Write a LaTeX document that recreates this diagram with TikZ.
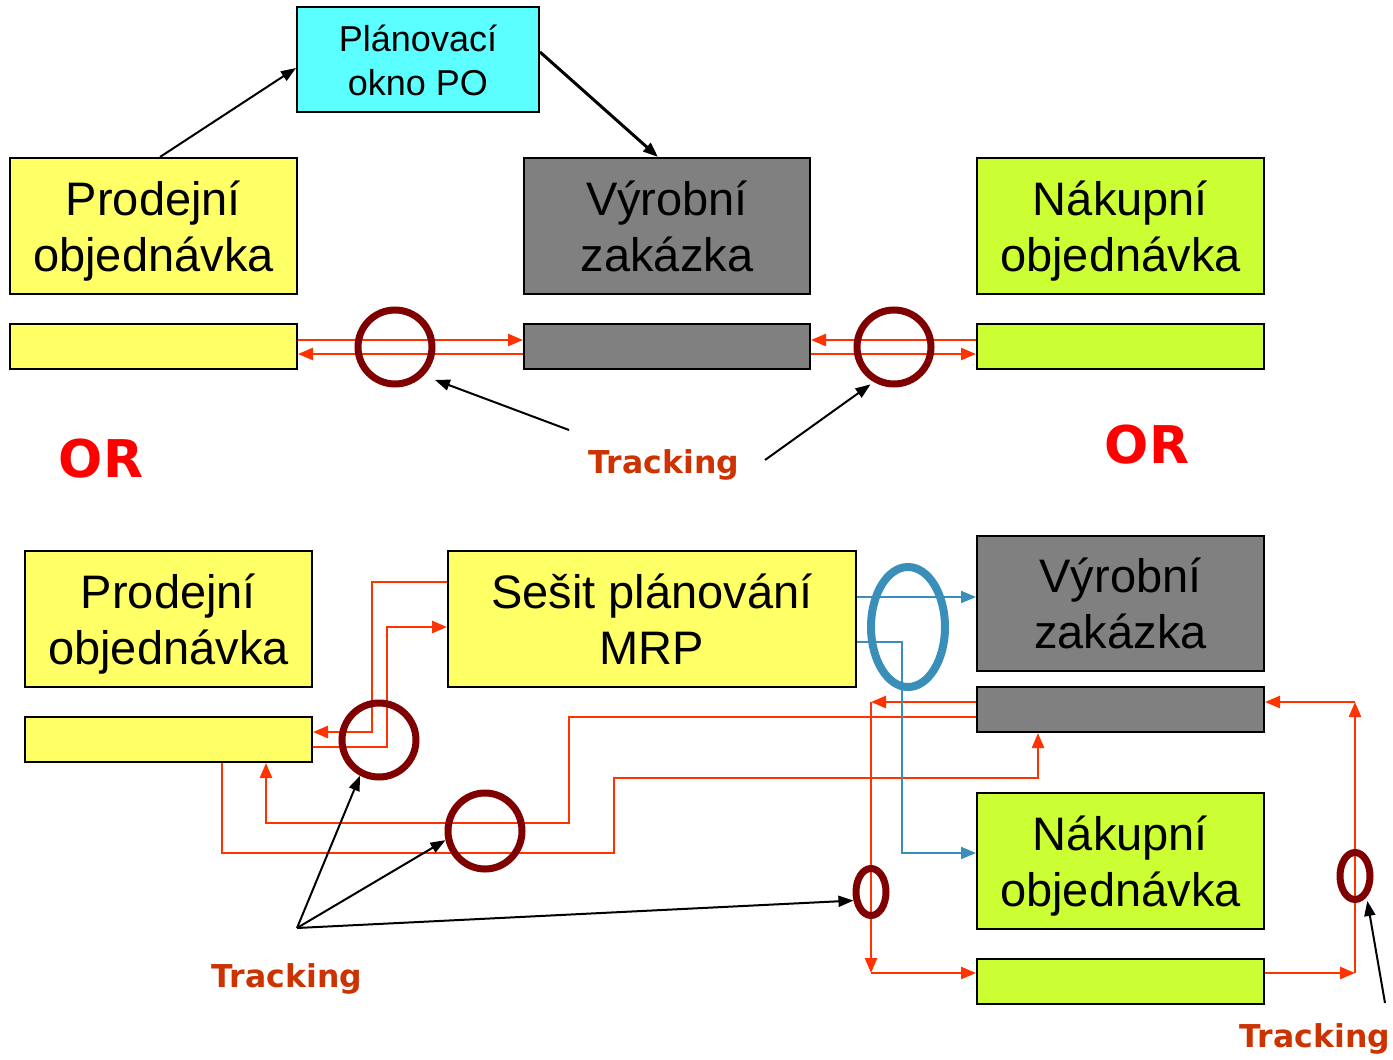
\documentclass[tikz,border=0pt]{standalone}
\usepackage{fontspec}
\setmainfont{Liberation Sans}
\newfontfamily\labelfont{DejaVu Sans}
\usetikzlibrary{arrows.meta,shapes.geometric}

\definecolor{boxyellow}{HTML}{FFFF66}
\definecolor{boxlime}{HTML}{CCFF33}
\definecolor{boxgray}{HTML}{808080}
\definecolor{boxcyan}{HTML}{5CFFFF}
\definecolor{linkred}{HTML}{FF3300}
\definecolor{ringred}{HTML}{800000}
\definecolor{linkblue}{HTML}{3A8FBA}
\definecolor{trackred}{HTML}{CC3300}
\definecolor{orred}{HTML}{FF0000}

% two centred lines with a fixed vertical extent, so every box sets them alike
\newcommand{\boxlines}[2]{\rule{0pt}{46pt}#1\\#2\rule[-12pt]{0pt}{12pt}}
\newcommand{\smalllines}[2]{\rule{0pt}{36pt}#1\\#2\rule[-9pt]{0pt}{9pt}}

\tikzset{
  docbox/.style={draw=black, line width=2pt, inner sep=0pt, align=center,
    minimum width=287pt, minimum height=136pt,
    font=\fontsize{47}{56}\selectfont},
  docbar/.style={draw=black, line width=2pt, inner sep=0pt,
    minimum width=287pt, minimum height=45pt},
  redlink/.style={draw=linkred, line width=2.5pt,
    -{Triangle[length=15pt,width=12pt]}},
  bluelink/.style={draw=linkblue, line width=2pt,
    -{Triangle[length=15pt,width=12pt]}},
  ring/.style={draw=ringred, line width=7pt, ellipse, inner sep=0pt},
  bluering/.style={draw=linkblue, line width=8pt, ellipse, inner sep=0pt},
  pointer/.style={draw=black, line width=2pt,
    -{Triangle[length=15pt,width=11pt]}},
  tracklabel/.style={text=trackred, inner sep=0pt, anchor=base,
    font=\labelfont\bfseries\fontsize{31.5}{36}\selectfont},
  orlabel/.style={text=orred, inner sep=0pt, anchor=base,
    font=\labelfont\bfseries\fontsize{52}{60}\selectfont},
}

\begin{document}
\begin{tikzpicture}[x=1pt,y=-1pt]
\useasboundingbox[fill=white] (0,0) rectangle (1393,1060);

% ---------------- upper variant ----------------
\node[docbox, fill=boxcyan, minimum width=242pt, minimum height=105pt,
  font=\fontsize{36}{44}\selectfont] (plan) at (418,59.5) {\smalllines{Plánovací}{okno PO}};
\node[docbox, fill=boxyellow] (pA) at (153.5,226) {\boxlines{Prodejní}{objednávka}};
\node[docbox, fill=boxgray, minimum width=286pt] (vA) at (667,226) {\boxlines{Výrobní}{zakázka}};
\node[docbox, fill=boxlime] (nA) at (1120.5,226) {\boxlines{Nákupní}{objednávka}};

\node[docbar, fill=boxyellow] (pAb) at (153.5,346.5) {};
\node[docbar, fill=boxgray, minimum width=286pt] (vAb) at (667,346.5) {};
\node[docbar, fill=boxlime] (nAb) at (1120.5,346.5) {};

\draw[pointer] (pA.north -| 160,0) -- (plan.west |- 0,68);
\draw[pointer, line width=3pt] (plan.east |- 0,52) -- (vA.north -| 658,0);

\draw[redlink] (pAb.east |- 0,340) -- (vAb.west |- 0,340);
\draw[redlink] (vAb.west |- 0,354) -- (pAb.east |- 0,354);
\draw[redlink] (nAb.west |- 0,340) -- (vAb.east |- 0,340);
\draw[redlink] (vAb.east |- 0,354) -- (nAb.west |- 0,354);

\node[ring, minimum width=74pt, minimum height=74pt] (t1) at (395,347) {};
\node[ring, minimum width=74pt, minimum height=74pt] (t2) at (894,347) {};

\node[tracklabel] (trkA) at (664,473) {Tracking};
\coordinate (trkAl) at (569,430);
\coordinate (trkAr) at (765,460);
\draw[pointer, shorten >=12pt] (trkAl) -- (t1.-45);
\draw[pointer, shorten >=4pt] (trkAr) -- (t2.240);

\node[orlabel] (orL) at (101,477) {OR};
\node[orlabel] (orR) at (1147,463) {OR};

% ---------------- lower variant ----------------
\node[docbox, fill=boxyellow] (pB) at (168.5,619) {\boxlines{Prodejní}{objednávka}};
\node[docbar, fill=boxyellow] (pBb) at (168.5,739.5) {};
\node[docbox, fill=boxyellow, minimum width=408pt] (mrp) at (652,619) {\boxlines{Sešit plánování}{MRP}};
\node[docbox, fill=boxgray, minimum height=135pt] (vB) at (1120.5,603.5) {\boxlines{Výrobní}{zakázka}};
\node[docbar, fill=boxgray] (vBb) at (1120.5,709.5) {};
\node[docbox, fill=boxlime] (nB) at (1120.5,861) {\boxlines{Nákupní}{objednávka}};
\node[docbar, fill=boxlime] (nBb) at (1120.5,981.5) {};

% tracking links between the sales order and the planning worksheet
\draw[redlink] (mrp.west |- 0,582) -| (372,732) -- (pBb.east |- 0,732);
\draw[redlink] (pBb.east |- 0,747) -| (387,627) -- (mrp.west |- 0,627);

% tracking links between the sales order and the production order
\draw[redlink] (vBb.west |- 0,717) -| (569,823) -| (pBb.south -| 266,0);
\draw[redlink] (pBb.south -| 222,0) |- (614,853) |- (1038,778) -- (vBb.south -| 1038,0);

% tracking links between the production order and the purchase order
\coordinate (jl) at (871,702);
\coordinate (jb) at (871,973);
\coordinate (jr) at (1355,973);
\coordinate (jt) at (1355,702);
\draw[redlink] (vBb.west |- jl) -- (jl);
\draw[redlink] (jl) -- (jb);
\draw[redlink] (jb) -- (nBb.west |- jb);
\draw[redlink] (nBb.east |- jr) -- (jr);
\draw[redlink] (jr) -- (jt);
\draw[redlink] (jt) -- (vBb.east |- jt);

% planning worksheet creates the orders
\draw[bluelink] (mrp.east |- 0,597) -- (vB.west |- 0,597);
\draw[bluelink] (mrp.east |- 0,642) -| (902,853) -- (nB.west |- 0,853);

\node[bluering, minimum width=74pt, minimum height=120pt] (blu) at (908,627) {};
\node[ring, minimum width=74pt, minimum height=74pt] (t3) at (379,740) {};
\node[ring, minimum width=74pt, minimum height=76pt] (t4) at (485,831) {};
\node[ring, minimum width=30pt, minimum height=47pt] (t5) at (871,892) {};
\node[ring, minimum width=30pt, minimum height=47pt] (t6) at (1355,876) {};

\node[tracklabel] (trkB) at (287,987) {Tracking};
\coordinate (fan) at (297,928);
\draw[pointer] (fan) -- (t3.242);
\draw[pointer] (fan) -- (t4.193);
\draw[pointer] (fan) -- (t5.206);

\node[tracklabel] (trkC) at (1315,1047) {Tracking};
\coordinate (trkCt) at (1385,1003);
\draw[pointer, shorten >=4pt] (trkCt) -- (t6.-61);
\end{tikzpicture}
\end{document}
